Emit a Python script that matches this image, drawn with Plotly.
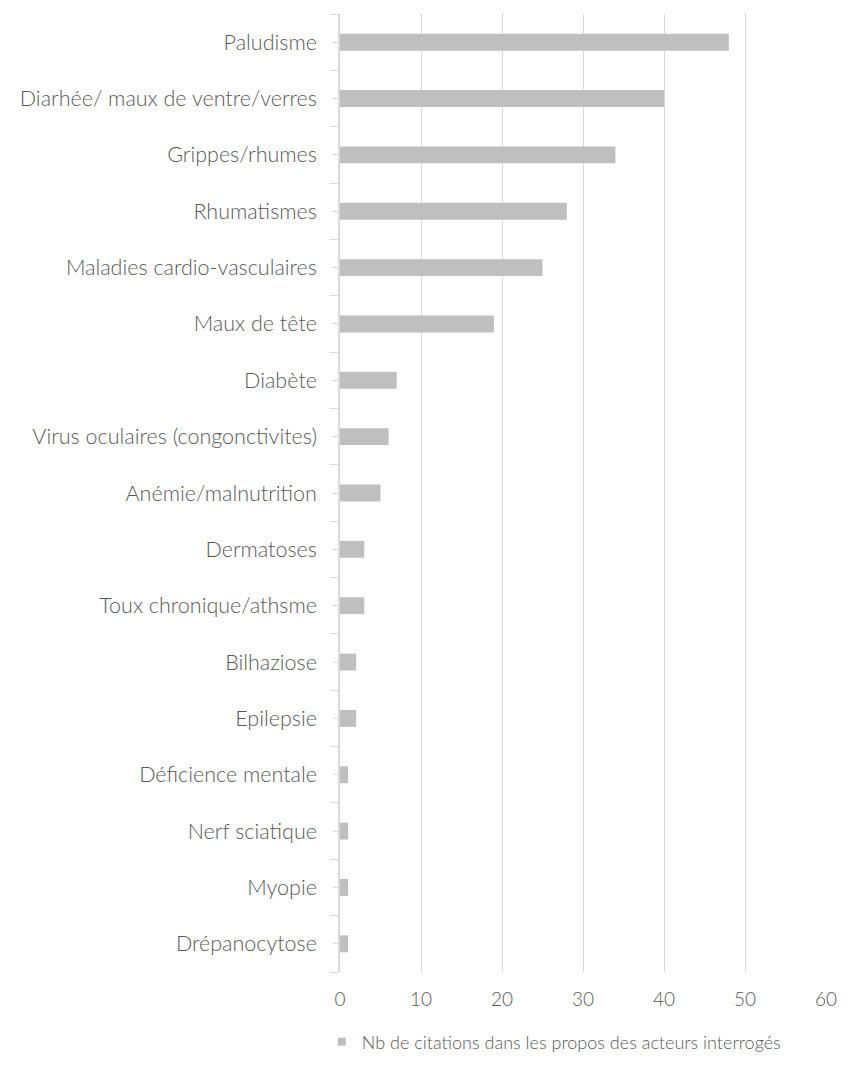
import plotly.graph_objects as go

categories = [
    "Paludisme",
    "Diarhée/ maux de ventre/verres",
    "Grippes/rhumes",
    "Rhumatismes",
    "Maladies cardio-vasculaires",
    "Maux de tête",
    "Diabète",
    "Virus oculaires (congonctivites)",
    "Anémie/malnutrition",
    "Dermatoses",
    "Toux chronique/athsme",
    "Bilhaziose",
    "Epilepsie",
    "Déficience mentale",
    "Nerf sciatique",
    "Myopie",
    "Drépanocytose",
]
citations = [48, 40, 34, 28, 25, 19, 7, 6, 5, 3, 3, 2, 2, 1, 1, 1, 1]
series_name = "Nb de citations dans les propos des acteurs interrogés"
x_ticks = [0, 10, 20, 30, 40, 50, 60]

FONT = "Lato"
TXT = "#595959"
GRID = "#D9D9D9"
BAR = "#BFBFBF"

positions = list(range(len(categories)))

fig = go.Figure()
fig.add_trace(go.Bar(
    x=citations,
    y=positions,
    orientation="h",
    width=0.3,
    marker=dict(color=BAR, line=dict(width=0)),
    name=series_name,
    showlegend=False,
))
# legend entry with a small square swatch
fig.add_trace(go.Scatter(
    x=[None], y=[None],
    mode="markers",
    marker=dict(symbol="square", size=8, color=BAR),
    name=series_name,
    showlegend=True,
))

fig.update_layout(
    width=849,
    height=1072,
    margin=dict(l=340, r=13, t=14, b=100),
    paper_bgcolor="white",
    plot_bgcolor="white",
    font=dict(family=FONT, color=TXT, size=20, weight=300),
    showlegend=True,
    legend=dict(
        orientation="h",
        x=0.44, xanchor="center",
        y=-0.073, yanchor="middle",
        font=dict(size=18, color=TXT, weight=300),
        itemwidth=30,
    ),
)

fig.update_xaxes(
    range=[0, 60],
    tickvals=x_ticks,
    ticktext=[str(v) for v in x_ticks],
    showgrid=True,
    gridcolor=GRID,
    gridwidth=1.3,
    zeroline=False,
    showline=False,
    ticks="",
    ticklabelstandoff=14,
    tickfont=dict(size=19, color=TXT, weight=300),
)

fig.update_yaxes(
    range=[len(categories) - 0.5, -0.5],
    tickmode="array",
    tickvals=positions,
    ticktext=categories,
    showgrid=False,
    zeroline=False,
    showline=True,
    linecolor=GRID,
    linewidth=1.5,
    ticks="outside",
    ticklen=5,
    tickcolor=GRID,
    tickwidth=1.3,
    minor=dict(ticks="outside", tick0=0.5, dtick=1, ticklen=8,
               tickcolor=GRID, tickwidth=1.3, showgrid=False),
    ticklabelstandoff=12,
    tickfont=dict(size=21.5, color=TXT, weight=300),
)

fig.write_html("out.html")
